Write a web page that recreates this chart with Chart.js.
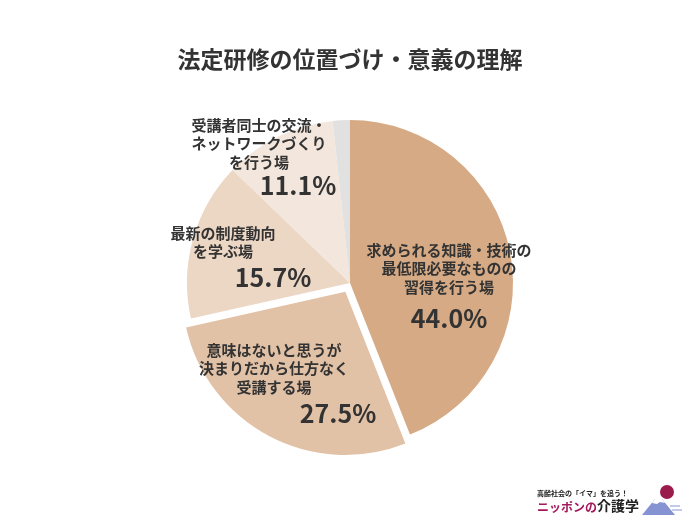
<!DOCTYPE html>
<html lang="ja">
<head>
<meta charset="utf-8">
<title>法定研修の位置づけ・意義の理解</title>
<script src="https://cdn.jsdelivr.net/npm/chart.js@4/dist/chart.umd.min.js"></script>
<style>
  html, body { margin: 0; padding: 0; background: #fff; }
  #wrap { position: relative; width: 700px; height: 528px; }
</style>
</head>
<body>
<div id="wrap"><canvas id="chart" width="700" height="528"></canvas></div>
<script>
  "use strict";

  var chartTitle = "法定研修の位置づけ・意義の理解";

  // slices, clockwise from 12 o'clock
  var categories = [
    ["求められる知識・技術の", "最低限必要なものの", "習得を行う場"],
    ["意味はないと思うが", "決まりだから仕方なく", "受講する場"],
    ["最新の制度動向", "を学ぶ場"],
    ["受講者同士の交流・", "ネットワークづくり", "を行う場"],
    ["その他"],
  ];
  var values = [44.0, 27.5, 15.7, 11.1, 1.7];
  var sliceColors = ["#d5aa85", "#e2c2a6", "#ecd6c4", "#f3e6dc", "#e1e1e1"];
  var sliceOffsets = [0, 40, 0, 0, 0];

  // label anchors relative to pie centre: caption (first line) and percentage
  var labelSpots = [
    { cap: [99, -33], pct: [99, 35] },
    { cap: [-76, 67], pct: [-12, 130] },
    { cap: [-127, -50], pct: [-77, -6] },
    { cap: [-91, -158], pct: [-52, -98] },
    null,
  ];

  var FONT = '"Noto Sans CJK JP", "Noto Sans", sans-serif';
  var INK = "#333333";

  var labelPlugin = {
    id: "sliceLabels",
    afterDraw: function (chart) {
      var ctx = chart.ctx;
      var meta = chart.getDatasetMeta(0);
      ctx.save();
      ctx.fillStyle = INK;
      ctx.textAlign = "center";
      ctx.textBaseline = "middle";

      ctx.font = "bold 23px " + FONT;
      ctx.fillText(chartTitle, 350, 59);

      for (var i = 0; i < meta.data.length; i++) {
        var spot = labelSpots[i];
        if (!spot) continue;
        var arc = meta.data[i];
        var lines = categories[i];
        ctx.font = "bold 15px " + FONT;
        for (var j = 0; j < lines.length; j++) {
          ctx.fillText(lines[j], arc.x + spot.cap[0], arc.y + spot.cap[1] + j * 18.5);
        }
        ctx.font = "bold 25px " + FONT;
        ctx.fillText(values[i].toFixed(1) + "%", arc.x + spot.pct[0], arc.y + spot.pct[1]);
      }
      ctx.restore();
      drawLogo(ctx);
    },
  };

  function drawLogo(ctx) {
    ctx.save();
    ctx.textBaseline = "middle";
    ctx.textAlign = "left";
    ctx.fillStyle = "#222";
    ctx.font = "bold 7px " + FONT;
    ctx.fillText("高齢社会の「イマ」を追う！", 537, 493);
    ctx.font = "bold 12px " + FONT;
    ctx.fillStyle = "#a3195b";
    var head = "ニッポンの";
    ctx.fillText(head, 537, 507);
    var x2 = 537 + ctx.measureText(head).width;
    ctx.fillStyle = "#222";
    ctx.font = "bold 14px " + FONT;
    ctx.fillText("介護学", x2, 506);
    // little mount fuji
    ctx.fillStyle = "#9a1c4c";
    ctx.beginPath();
    ctx.arc(667, 492, 7, 0, Math.PI * 2);
    ctx.fill();
    ctx.fillStyle = "#8593d3";
    ctx.beginPath();
    ctx.moveTo(642, 515);
    ctx.lineTo(655, 499);
    ctx.lineTo(662, 499);
    ctx.lineTo(675, 515);
    ctx.closePath();
    ctx.fill();
    ctx.fillStyle = "#fff";
    ctx.beginPath();
    ctx.moveTo(655, 499);
    ctx.lineTo(662, 499);
    ctx.lineTo(665, 503);
    ctx.lineTo(660, 502);
    ctx.lineTo(657, 504);
    ctx.lineTo(652, 503);
    ctx.closePath();
    ctx.fill();
    ctx.strokeStyle = "#8593d3";
    ctx.lineWidth = 1;
    ctx.beginPath();
    ctx.moveTo(670, 506);
    ctx.lineTo(680, 506);
    ctx.moveTo(672, 510);
    ctx.lineTo(682, 510);
    ctx.stroke();
    ctx.restore();
  }

  new Chart(document.getElementById("chart"), {
    type: "pie",
    data: {
      labels: categories.map(function (c) { return c.join(""); }),
      datasets: [
        {
          data: values,
          backgroundColor: sliceColors,
          borderWidth: 0,
          offset: sliceOffsets,
        },
      ],
    },
    options: {
      responsive: false,
      animation: false,
      layout: { padding: { top: 100, bottom: 62, left: 20, right: 20 } },
      plugins: {
        legend: { display: false },
        tooltip: { enabled: false },
        title: { display: false },
      },
    },
    plugins: [labelPlugin],
  });
</script>
</body>
</html>
